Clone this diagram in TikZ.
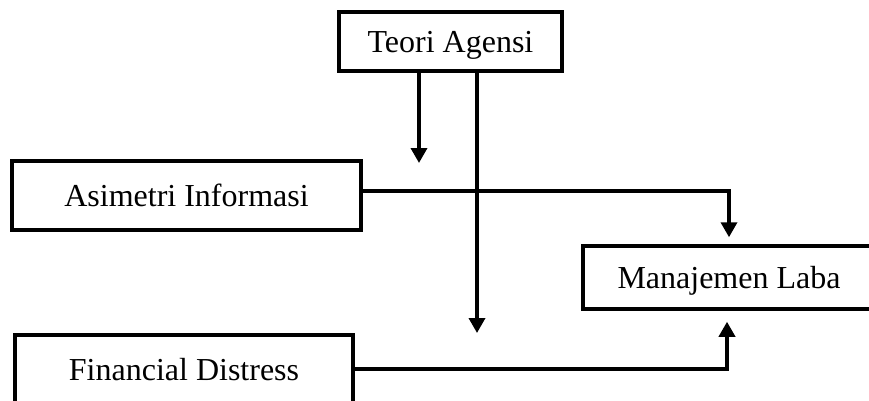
\documentclass[tikz,border=0pt]{standalone}
\usepackage{fontspec}
\setmainfont{Liberation Serif}
\usetikzlibrary{arrows.meta,calc}

\tikzset{
  kotak/.style={draw, line width=3.5pt, inner sep=0pt, text depth=0pt, font=\fontsize{32}{38}\selectfont},
  panah/.style={line width=3.5pt, -{Triangle[width=16pt,length=15pt]}},
}

\begin{document}
\begin{tikzpicture}[x=1pt,y=-1pt]
        \useasboundingbox (0,0) rectangle (869,401);
        \node[kotak, minimum width=223, minimum height=59] (teori) at (450.5,41.5) {Teori Agensi};
        \node[kotak, minimum width=349, minimum height=69] (asimetri) at (186.5,195.5) {Asimetri Informasi};
        \node[kotak, minimum width=338, minimum height=69] (financial) at (184,369.5) {Financial Distress};
        \node[kotak, minimum width=292, minimum height=63] (laba) at (729,277.5) {Manajemen Laba};
        \coordinate (ujungA) at (419,163);
        \coordinate (ujungB) at (477,333);
        \coordinate (belokA) at (729,191);
        \coordinate (belokB) at (727,369);
        % dari teori agensi
        \draw[panah] (teori.south -| ujungA) -- (ujungA);
        \draw[panah] (teori.south -| ujungB) -- (ujungB);
        % ke manajemen laba
        \draw[panah, shorten >=7pt] (asimetri.east |- belokA) -- (belokA) -- (belokA |- laba.north);
        \draw[panah, shorten >=11pt] (financial.east |- belokB) -- (belokB) -- (belokB |- laba.south);
\end{tikzpicture}
\end{document}
